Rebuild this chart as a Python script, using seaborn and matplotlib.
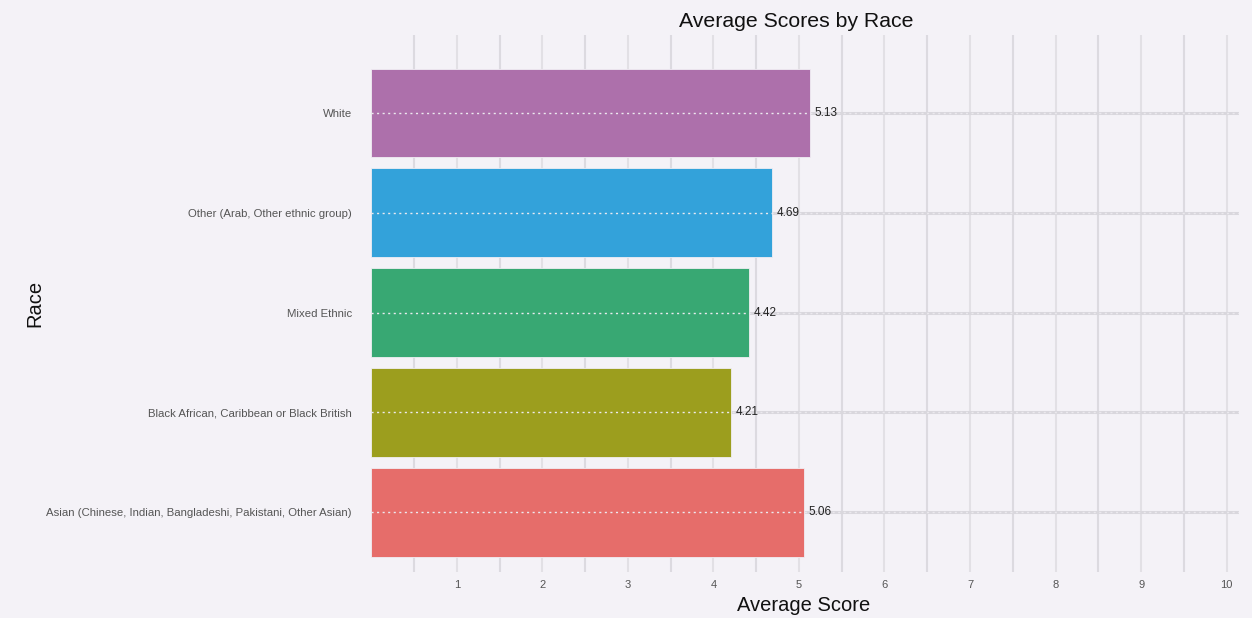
import matplotlib
matplotlib.use('Agg')
import matplotlib.pyplot as plt
import seaborn as sns
import pandas as pd
import numpy as np

# data, top to bottom as drawn
races = [
    'White',
    'Other (Arab, Other ethnic group)',
    'Mixed Ethnic',
    'Black African, Caribbean or Black British',
    'Asian (Chinese, Indian, Bangladeshi, Pakistani, Other Asian)',
]
scores = [5.13, 4.69, 4.42, 4.21, 5.06]
colors = ['#ad70ab', '#33a2da', '#38a873', '#9c9e1e', '#e66d6a']
x_ticks = [1, 2, 3, 4, 5, 6, 7, 8, 9, 10]

BG = '#f4f2f7'

sns.set_theme(style='white')
plt.rcParams['font.family'] = ['Liberation Sans', 'DejaVu Sans']

df = pd.DataFrame({'Race': races, 'Average Score': scores})

fig = plt.figure(figsize=(12.52, 6.18), dpi=100, facecolor=BG)
ax = fig.add_axes([0.2965, 0.0744, 0.6935, 0.8686])
ax.set_facecolor(BG)

sns.barplot(data=df, y='Race', x='Average Score', hue='Race', order=races,
            palette=colors, orient='h', width=0.89, legend=False, ax=ax,
            saturation=1, zorder=3, edgecolor='#f0eef3', linewidth=0.6)

# vertical grid every half unit
for v in np.arange(0.5, 10.5, 0.5):
    ax.axvline(v, color='#dcdae0' if v % 1 else '#e2e0e5', lw=1.5, zorder=1)

# horizontal grid through category centres
for i in range(len(races)):
    ax.axhline(i, color='#d9d7dd', lw=2.2, zorder=1)
    ax.axhline(i, color='#ebe9ee', lw=1.0, ls=(0, (1.5, 2.5)), zorder=4)

for i, s in enumerate(scores):
    ax.text(s + 0.05, i, f'{s:.2f}', va='center', ha='left', fontsize=8.5,
            color='#222222', zorder=5)

ax.set_xlim(0, 10.15)
ax.set_ylim(len(races) - 0.4, -0.78)
ax.set_xticks(x_ticks)
ax.set_xticklabels([str(t) for t in x_ticks])
ax.tick_params(axis='x', length=0, labelsize=8, labelcolor='#555555', pad=6)
ax.tick_params(axis='y', length=8, width=2, color='#d9d7dd', labelsize=8.2,
               labelcolor='#555555', pad=6)
for sp in ax.spines.values():
    sp.set_visible(False)

ax.set_xlabel('Average Score', fontsize=14.5, color='#111111')
ax.set_ylabel('Race', fontsize=14.5, color='#111111')
ax.yaxis.set_label_coords(-0.377, 0.5)
ax.xaxis.set_label_coords(0.498, -0.044)
fig.text(0.636, 0.965, 'Average Scores by Race', ha='center', va='center',
         fontsize=15.3, color='#111111')

fig.savefig('out.png', dpi=100, facecolor=BG)
